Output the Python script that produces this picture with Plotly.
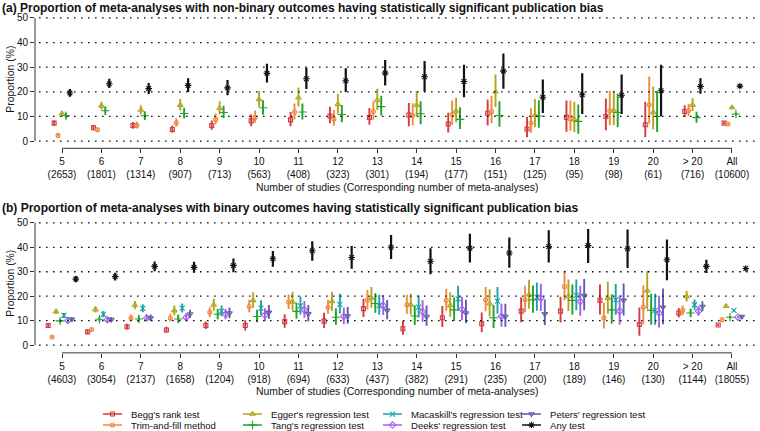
import plotly.graph_objects as go

W, H = 760, 431

# ---------------- data ----------------
categories = ["5", "6", "7", "8", "9", "10", "11", "12", "13", "14", "15", "16",
              "17", "18", "19", "20", "> 20", "All"]
n_ma_a = [2653, 1801, 1314, 907, 713, 563, 408, 323, 301, 194, 177, 151, 125, 95, 98, 61, 716, 10600]
n_ma_b = [4603, 3054, 2137, 1658, 1204, 918, 694, 633, 437, 382, 291, 235, 200, 189, 146, 130, 1144, 18055]
y_ticks = [0, 10, 20, 30, 40, 50]

method_names = ["Begg's rank test", "Trim-and-fill method", "Egger's regression test",
                "Tang's regression test", "Macaskill's regression test",
                "Deeks' regression test", "Peters' regression test", "Any test"]

# (a) non-binary outcomes
a_begg = [7.3, 5.4, 6.3, 4.7, 6.3, 8.2, 8.6, 10.2, 9.6, 10.6, 6.9, 11.3, 4.9, 9.6, 10.0, 6.6, 12.0, 7.3]
a_begg_lo = [6.3, 4.4, 5.0, 3.4, 4.6, 6.0, 6.0, 7.2, 6.6, 6.0, 3.5, 6.3, 1.5, 3.8, 4.4, 1.5, 9.8, 6.8]
a_begg_hi = [8.3, 6.5, 7.7, 6.3, 8.3, 10.8, 11.8, 13.9, 13.4, 15.5, 11.5, 16.9, 9.8, 16.5, 17.3, 16.0, 14.5, 7.8]
a_trim = [2.3, 4.6, 6.4, 7.4, 8.8, 9.6, 11.8, 9.0, 12.0, 10.4, 10.9, 12.0, 7.3, 9.0, 12.3, 14.7, 12.4, 6.9]
a_trim_lo = [1.8, 3.7, 5.1, 5.8, 6.8, 7.4, 8.8, 6.2, 8.6, 6.4, 6.6, 7.2, 3.4, 4.2, 6.5, 7.0, 10.2, 6.4]
a_trim_hi = [2.9, 5.6, 7.8, 9.3, 11.2, 12.4, 15.3, 12.6, 16.2, 15.4, 16.5, 18.4, 13.3, 16.5, 20.4, 26.2, 15.0, 7.4]
a_egger = [11.1, 14.3, 12.6, 14.6, 13.3, 16.9, 17.6, 14.9, 16.6, 14.6, 12.2, 20.0, 10.4, 8.8, 12.3, 11.6, 14.6, 13.6]
a_egger_lo = [10.0, 12.8, 10.9, 12.4, 10.9, 13.9, 14.0, 11.2, 12.6, 10.0, 7.6, 13.8, 5.6, 3.7, 6.5, 4.7, 12.2, 12.9]
a_egger_hi = [12.3, 16.0, 14.5, 17.1, 16.2, 20.3, 21.7, 19.1, 21.2, 20.3, 17.6, 27.0, 17.1, 16.0, 20.4, 22.2, 17.4, 14.3]
a_tang = [10.3, 12.3, 10.3, 11.2, 11.6, 13.5, 11.8, 10.8, 14.0, 11.1, 8.8, 10.4, 10.2, 8.0, 11.6, 10.0, 9.5, 11.0]
a_tang_lo = [9.2, 10.8, 8.7, 9.2, 9.3, 10.7, 8.8, 7.6, 10.4, 6.8, 4.9, 5.8, 5.4, 3.0, 5.6, 3.7, 7.4, 10.4]
a_tang_hi = [11.5, 13.9, 12.0, 13.5, 14.3, 16.6, 15.3, 14.6, 18.4, 16.2, 13.7, 16.2, 16.6, 14.8, 19.2, 20.2, 11.9, 11.6]
a_any = [19.5, 23.3, 21.3, 22.6, 21.6, 27.5, 25.3, 24.5, 27.6, 26.1, 24.2, 28.4, 17.8, 18.8, 18.6, 20.4, 22.2, 22.3]
a_any_lo = [18.0, 21.5, 19.1, 19.9, 18.6, 23.8, 21.1, 19.9, 22.6, 20.0, 17.8, 21.2, 11.4, 11.0, 11.0, 10.2, 19.2, 21.5]
a_any_hi = [21.1, 25.3, 23.6, 25.5, 24.8, 31.4, 29.9, 29.6, 32.9, 32.5, 31.0, 35.6, 25.0, 27.5, 27.0, 31.0, 25.5, 23.1]

# (b) binary outcomes
b_begg = [8.0, 5.4, 7.5, 6.2, 8.0, 8.0, 9.6, 9.8, 14.9, 6.7, 11.2, 8.7, 13.9, 13.9, 18.3, 8.4, 13.1, 8.2]
b_begg_lo = [7.2, 4.6, 6.4, 5.1, 6.6, 6.0, 7.1, 7.0, 11.5, 4.2, 7.4, 5.3, 9.3, 9.2, 12.5, 3.8, 11.3, 7.8]
b_begg_hi = [8.8, 6.3, 8.7, 7.5, 9.7, 10.2, 12.6, 13.2, 19.0, 10.0, 16.0, 13.3, 19.6, 19.8, 24.8, 15.4, 15.2, 8.6]
b_trim = [3.3, 6.4, 11.1, 11.1, 13.4, 15.8, 17.6, 15.5, 18.3, 16.5, 18.3, 18.5, 18.5, 24.0, 11.2, 15.5, 14.2, 10.4]
b_trim_lo = [2.8, 5.6, 9.8, 9.6, 11.4, 13.4, 14.8, 12.8, 14.6, 12.8, 14.0, 13.8, 13.4, 18.3, 6.8, 8.4, 12.3, 10.0]
b_trim_hi = [3.9, 7.3, 12.5, 12.8, 15.5, 18.5, 20.7, 18.5, 22.5, 20.6, 23.0, 23.8, 24.3, 30.4, 17.3, 24.5, 16.2, 10.9]
b_egger = [13.7, 14.5, 16.3, 14.1, 16.4, 18.3, 17.6, 17.9, 19.3, 16.5, 16.2, 16.9, 20.6, 19.9, 19.2, 22.3, 19.9, 15.9]
b_egger_lo = [12.7, 13.3, 14.7, 12.2, 14.0, 15.2, 14.2, 13.9, 15.3, 12.4, 11.6, 11.7, 14.9, 13.9, 12.8, 14.7, 17.8, 15.4]
b_egger_hi = [14.8, 15.8, 18.0, 16.2, 19.0, 21.6, 21.8, 21.7, 23.8, 21.0, 21.6, 22.8, 26.7, 26.8, 26.0, 30.4, 22.1, 16.4]
b_tang = [9.9, 10.6, 10.7, 10.7, 12.6, 11.7, 13.8, 11.4, 17.0, 11.9, 14.4, 11.2, 18.5, 18.3, 14.4, 14.2, 13.1, 11.4]
b_tang_lo = [9.1, 9.7, 9.4, 9.1, 10.6, 9.3, 10.8, 8.3, 13.2, 8.2, 9.9, 7.0, 13.2, 12.4, 8.7, 8.3, 11.5, 11.0]
b_tang_hi = [10.7, 11.7, 12.1, 12.4, 14.8, 14.5, 17.3, 15.1, 21.2, 16.3, 19.5, 16.4, 24.4, 24.8, 20.8, 21.0, 14.9, 11.9]
b_mac = [12.1, 12.6, 15.0, 15.1, 13.9, 15.1, 16.0, 16.7, 16.2, 15.5, 18.9, 18.0, 19.6, 20.3, 18.5, 14.2, 16.5, 14.2]
b_mac_lo = [11.1, 11.4, 13.4, 13.3, 11.8, 12.2, 12.5, 12.9, 12.4, 11.3, 14.0, 12.8, 14.0, 14.3, 12.4, 8.3, 14.5, 13.7]
b_mac_hi = [13.1, 13.9, 16.7, 17.0, 16.2, 18.3, 19.9, 21.0, 20.6, 20.3, 24.3, 23.8, 25.6, 26.8, 25.0, 21.0, 18.6, 14.7]
b_deeks = [10.1, 10.4, 11.1, 11.3, 12.6, 12.3, 14.4, 11.7, 16.2, 13.6, 14.6, 11.7, 19.2, 17.8, 13.9, 13.1, 13.9, 11.4]
b_deeks_lo = [9.3, 9.4, 9.8, 9.8, 10.6, 9.8, 11.2, 8.5, 12.3, 9.5, 10.2, 7.5, 13.9, 12.0, 8.3, 7.2, 12.0, 11.0]
b_deeks_hi = [11.0, 11.5, 12.5, 13.0, 14.8, 15.1, 18.0, 15.4, 20.5, 18.3, 19.8, 16.9, 25.1, 24.3, 20.3, 20.2, 15.9, 11.9]
b_peters = [10.6, 10.4, 11.1, 12.7, 13.1, 13.4, 12.8, 11.9, 14.2, 11.7, 13.1, 11.7, 12.8, 20.3, 18.3, 15.5, 15.8, 11.7]
b_peters_lo = [9.8, 9.4, 9.8, 11.1, 11.0, 10.8, 9.6, 8.7, 10.6, 7.9, 8.9, 7.5, 8.2, 14.3, 12.1, 8.5, 13.8, 11.2]
b_peters_hi = [11.5, 11.5, 12.5, 14.5, 15.4, 16.4, 16.4, 15.6, 18.4, 16.2, 18.5, 16.9, 18.6, 27.0, 25.2, 23.1, 17.9, 12.2]
b_any = [27.0, 28.0, 32.2, 31.8, 32.6, 35.3, 38.6, 35.8, 40.0, 34.3, 39.6, 37.7, 40.3, 40.7, 39.4, 34.9, 32.2, 31.3]
b_any_lo = [25.8, 26.4, 30.2, 29.6, 29.8, 32.0, 34.5, 31.2, 35.2, 29.0, 33.8, 31.6, 33.8, 33.6, 31.5, 26.5, 29.5, 30.6]
b_any_hi = [28.3, 29.6, 34.2, 34.1, 35.4, 38.5, 42.5, 40.5, 45.0, 39.6, 45.5, 44.0, 47.0, 47.5, 47.3, 43.2, 34.9, 32.0]

# ---------------- styles ----------------
colors = ["#D43A3F", "#EE8B3F", "#B3A41E", "#22A12B", "#18A3A8", "#A45EEA", "#5F5CA9", "#111111"]
symbols = ["square-open", "circle-open", "triangle-up-open", "cross-thin-open",
           "x-thin-open", "diamond-open", "triangle-down-open", "asterisk-open"]
sizes = [4, 4, 5, 6, 5, 5, 5, 5.5]
FONT = "Liberation Sans, Arial, Helvetica, sans-serif"
STEP = 0.1


def py(p):
    return 1 - p / H


def px(p):
    return p / W


fig = go.Figure()
xpos = list(range(1, len(categories) + 1))

panel_a = [(0, a_begg, a_begg_lo, a_begg_hi), (1, a_trim, a_trim_lo, a_trim_hi),
           (2, a_egger, a_egger_lo, a_egger_hi), (3, a_tang, a_tang_lo, a_tang_hi),
           (7, a_any, a_any_lo, a_any_hi)]
panel_b = [(0, b_begg, b_begg_lo, b_begg_hi), (1, b_trim, b_trim_lo, b_trim_hi),
           (2, b_egger, b_egger_lo, b_egger_hi), (3, b_tang, b_tang_lo, b_tang_hi),
           (4, b_mac, b_mac_lo, b_mac_hi), (5, b_deeks, b_deeks_lo, b_deeks_hi),
           (6, b_peters, b_peters_lo, b_peters_hi), (7, b_any, b_any_lo, b_any_hi)]

for panel, xa, ya in [(panel_a, "x", "y"), (panel_b, "x2", "y2")]:
    n = len(panel)
    for k, (mi, val, lo, hi) in enumerate(panel):
        off = (k - (n - 1) / 2) * STEP
        fig.add_trace(go.Scatter(
            x=[c + off for c in xpos], y=val, mode="markers",
            xaxis=xa, yaxis=ya, showlegend=False, name=method_names[mi],
            marker=dict(symbol=symbols[mi], size=sizes[mi], color=colors[mi],
                        line=dict(width=1.1, color=colors[mi])),
            error_y=dict(type="data", symmetric=False,
                         array=[h - v for h, v in zip(hi, val)],
                         arrayminus=[v - l for v, l in zip(val, lo)],
                         color=colors[mi], thickness=2.2 if mi == 7 else 1.9, width=0),
        ))

# manual legend (drawn on a small pixel-space axis below panel b)
LX0, LX1, LY0, LY1 = 95, 705, 402, 431
leg_cols = [103, 243, 383, 522]
leg_rows = [414, 425]
annotations = []
for i, name in enumerate(method_names):
    col, row = i // 2, i % 2
    x0 = leg_cols[col]
    yy = leg_rows[row]
    fig.add_trace(go.Scatter(
        x=[x0, x0 + 19], y=[yy, yy], mode="lines", xaxis="x3", yaxis="y3",
        line=dict(color=colors[i], width=1.6), showlegend=False, hoverinfo="skip"))
    fig.add_trace(go.Scatter(
        x=[x0 + 9.5], y=[yy], mode="markers", xaxis="x3", yaxis="y3",
        marker=dict(symbol=symbols[i], size=sizes[i], color=colors[i],
                    line=dict(width=1.1, color=colors[i])),
        showlegend=False, hoverinfo="skip"))
    annotations.append(dict(x=x0 + 26, y=yy, xref="x3", yref="y3", text=name,
                            showarrow=False, xanchor="left", yanchor="middle",
                            font=dict(size=9.6, color="#111")))

# panel geometry
pa = dict(bottom=147, top=12.3, rng=[-2.95, 51.5])
pb = dict(bottom=352.5, top=218.2, rng=[-3.18, 51.5])
XDOM = [px(35), px(758)]
XRANGE = [0.315, 18.66]

axis_common = dict(showgrid=False, zeroline=False, showline=False, ticks="outside",
                   ticklen=4, tickwidth=1, tickcolor="#333",
                   tickfont=dict(size=10, color="#111", family=FONT))

layout = dict(
    width=W, height=H, margin=dict(l=0, r=0, t=0, b=0),
    paper_bgcolor="white", plot_bgcolor="rgba(0,0,0,0)",
    font=dict(family=FONT, color="#111"),
    xaxis=dict(domain=XDOM, range=XRANGE, anchor="y", tickvals=xpos,
               ticktext=[f"{c}<br>({n})" for c, n in zip(categories, n_ma_a)], **axis_common),
    yaxis=dict(domain=[py(pa["bottom"]), py(pa["top"])], range=pa["rng"], anchor="x",
               tickvals=y_ticks, **axis_common),
    xaxis2=dict(domain=XDOM, range=XRANGE, anchor="y2", tickvals=xpos,
                ticktext=[f"{c}<br>({n})" for c, n in zip(categories, n_ma_b)], **axis_common),
    yaxis2=dict(domain=[py(pb["bottom"]), py(pb["top"])], range=pb["rng"], anchor="x2",
                tickvals=y_ticks, **axis_common),
    xaxis3=dict(domain=[px(LX0), px(LX1)], range=[LX0, LX1], visible=False, anchor="y3",
                fixedrange=True),
    yaxis3=dict(domain=[py(LY1), py(LY0)], range=[LY1, LY0], visible=False, anchor="x3",
                fixedrange=True),
    showlegend=False,
)

shapes = []
for ya, xa in [("y", "x"), ("y2", "x2")]:
    for v in y_ticks:
        shapes.append(dict(type="line", xref="paper", yref=ya, x0=px(39), x1=px(759),
                           y0=v, y1=v, line=dict(color="#111", width=1.3, dash="1.6px,5.4px")))
    shapes.append(dict(type="line", xref="paper", yref=ya, x0=px(35), x1=px(35),
                       y0=0, y1=50, line=dict(color="#333", width=1)))
    shapes.append(dict(type="line", xref=xa, yref=ya + " domain", x0=1, x1=len(categories),
                       y0=0, y1=0, line=dict(color="#333", width=1)))

titles = [
    ("(a) Proportion of meta-analyses with non-binary outcomes having statistically significant publication bias", 6.5),
    ("(b) Proportion of meta-analyses with binary outcomes having statistically significant publication bias", 207),
]
for t, yp in titles:
    annotations.append(dict(x=0, y=py(yp), xref="paper", yref="paper", text=f"<b>{t}</b>",
                            showarrow=False, xanchor="left", yanchor="middle",
                            font=dict(size=12, color="#111")))
for yp in [78, 283]:
    annotations.append(dict(x=px(11), y=py(yp), xref="paper", yref="paper", text="Proportion (%)",
                            textangle=-90, showarrow=False, xanchor="center", yanchor="middle",
                            font=dict(size=10.4, color="#111")))
for yp in [186, 391]:
    annotations.append(dict(x=px(396.5), y=py(yp), xref="paper", yref="paper",
                            text="Number of studies (Corresponding number of meta-analyses)",
                            showarrow=False, xanchor="center", yanchor="middle",
                            font=dict(size=10.4, color="#111")))

layout["shapes"] = shapes
layout["annotations"] = annotations
fig.update_layout(**layout)

fig.write_html("out.html", config={"displayModeBar": False},
               post_script="document.body.style.margin='0';")
